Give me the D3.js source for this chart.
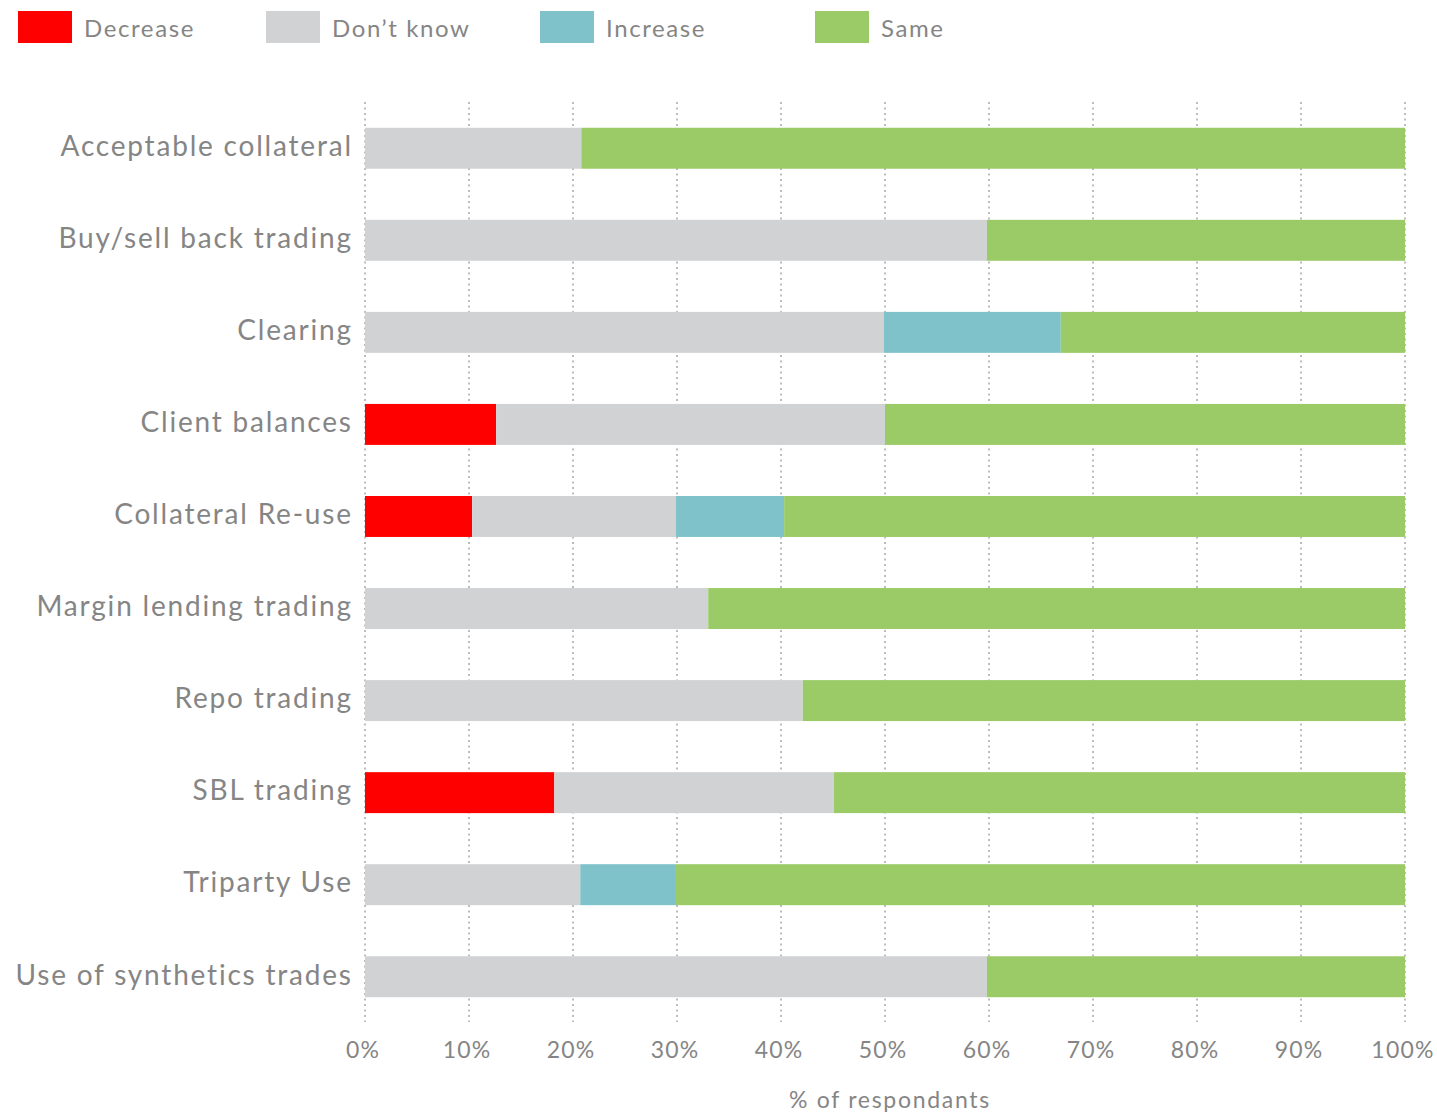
<!DOCTYPE html>
<html>
<head>
<meta charset="utf-8">
<script src="https://cdn.jsdelivr.net/npm/d3@7"></script>
<style>
  body { margin: 0; background: #fff; }
  svg text { font-family: Lato, "Open Sans", sans-serif; fill: #858585; }
</style>
</head>
<body>
<script>
// chart data, % of respondants per answer
const categories = [
  'Acceptable collateral',
  'Buy/sell back trading',
  'Clearing',
  'Client balances',
  'Collateral Re-use',
  'Margin lending trading',
  'Repo trading',
  'SBL trading',
  'Triparty Use',
  'Use of synthetics trades'
]
const seriesNames = ['Decrease', 'Don\u2019t know', 'Increase', 'Same']
const seriesColors = ['#ff0000', '#d1d2d4', '#7fc2c9', '#9acb67']
const decrease = [0, 0, 0, 12.6, 10.3, 0, 0, 18.2, 0, 0]
const dontKnow = [20.8, 59.8, 49.9, 37.4, 19.6, 33.0, 42.1, 26.9, 20.7, 59.8]
const increase = [0, 0, 17.0, 0, 10.4, 0, 0, 0, 9.2, 0]
const same = [79.2, 40.2, 33.1, 50.0, 59.7, 67.0, 57.9, 54.9, 70.1, 40.2]
const xTicks = [0, 10, 20, 30, 40, 50, 60, 70, 80, 90, 100]
const xTitle = '% of respondants'

const width = 1437
const height = 1113

const svg = d3.select('body').append('svg')
  .attr('width', width)
  .attr('height', height)

const x = d3.scaleLinear().domain([0, 100]).range([365, 1405])
const y = d3.scaleBand().domain(categories).range([102, 1023]).paddingInner(0.555).paddingOuter(0.28)

// dotted vertical grid
svg.append('g')
  .selectAll('line')
  .data(xTicks)
  .join('line')
  .attr('x1', d => x(d)).attr('x2', d => x(d))
  .attr('y1', 102).attr('y2', 1022)
  .attr('stroke', '#bdbdbd')
  .attr('stroke-width', 2)
  .attr('stroke-dasharray', '2,3.5')

// stacked bars
const rows = categories.map((c, i) => ({
  cat: c, values: [decrease[i], dontKnow[i], increase[i], same[i]]
}))
const stack = d3.stack().keys([0, 1, 2, 3]).value((d, k) => d.values[k])
const layers = stack(rows)

svg.append('g')
  .selectAll('g')
  .data(layers)
  .join('g')
  .attr('fill', d => seriesColors[d.key])
  .selectAll('rect')
  .data(d => d.filter(s => s[1] - s[0] > 0))
  .join('rect')
  .attr('x', d => x(d[0]))
  .attr('width', d => x(d[1]) - x(d[0]))
  .attr('y', d => y(d.data.cat))
  .attr('height', y.bandwidth())

// category labels
svg.append('g')
  .selectAll('text')
  .data(categories)
  .join('text')
  .attr('x', 352.8)
  .attr('y', d => y(d) + y.bandwidth() / 2 - 2)
  .attr('dy', '0.35em')
  .attr('text-anchor', 'end')
  .attr('font-size', 28)
  .attr('letter-spacing', 1.8)
  .text(d => d)

// x axis labels
svg.append('g')
  .selectAll('text')
  .data(xTicks)
  .join('text')
  .attr('x', d => x(d) - 2)
  .attr('y', 1058)
  .attr('text-anchor', 'middle')
  .attr('font-size', 23)
  .attr('letter-spacing', 1.2)
  .text(d => d + '%')

svg.append('text')
  .attr('x', 890)
  .attr('y', 1108)
  .attr('text-anchor', 'middle')
  .attr('font-size', 23)
  .attr('letter-spacing', 1.7)
  .text(xTitle)

// legend
const legendX = [18, 266, 540, 815]
const legend = svg.append('g')
  .selectAll('g')
  .data(seriesNames)
  .join('g')
  .attr('transform', (d, i) => `translate(${legendX[i]},11)`)

legend.append('rect')
  .attr('width', 54)
  .attr('height', 32)
  .attr('fill', (d, i) => seriesColors[i])

legend.append('text')
  .attr('x', 66)
  .attr('y', 18)
  .attr('dy', '0.35em')
  .attr('font-size', 24)
  .attr('letter-spacing', 1.6)
  .text(d => d)
</script>
</body>
</html>
